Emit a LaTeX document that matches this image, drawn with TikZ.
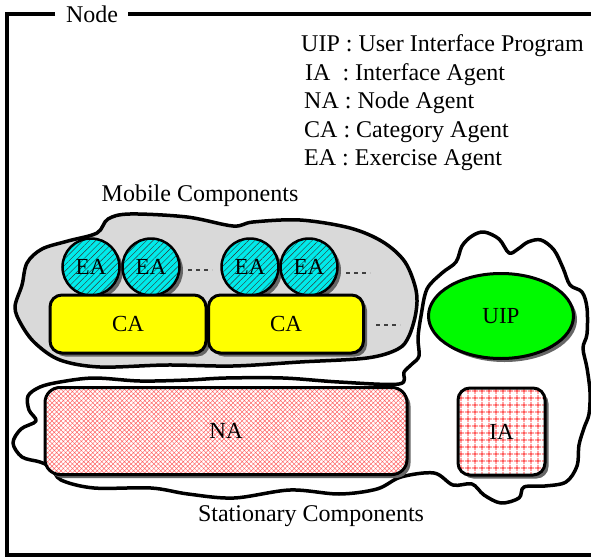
\documentclass[tikz,border=0pt]{standalone}
\usepackage{fontspec}
\setmainfont{Liberation Serif}
\usetikzlibrary{shadows,patterns.meta,shapes.geometric}
\definecolor{eacyan}{RGB}{0,235,235}
\definecolor{cayellow}{RGB}{255,255,0}
\definecolor{uipgreen}{RGB}{0,250,0}
\definecolor{cloudgray}{RGB}{217,217,217}
\begin{document}
\begin{tikzpicture}[x=1pt,y=-1pt,
  lbl/.style={font=\fontsize{24}{28}\selectfont, inner sep=0pt},
  inlbl/.style={font=\fontsize{23}{27}\selectfont},
  shad/.style={drop shadow={shadow xshift=3.5pt,shadow yshift=-3.5pt,fill=black!60,opacity=1}},
  frameline/.style={line width=4pt},
  cloudline/.style={line width=3.5pt, line join=round},
  boxline/.style={draw, line width=3pt},
  eacirc/.style={circle, boxline, line width=2.5pt, minimum size=57pt, inner sep=0pt, shad,
     preaction={fill=eacyan}, pattern={Lines[angle=45,distance=4.5pt,line width=0.45pt]}, pattern color=black!80, inlbl},
  cabox/.style={rectangle, boxline, rounded corners=12pt, minimum width=156pt, minimum height=58pt, fill=cayellow, shad, inlbl},
  dots/.style={line width=2.5pt, dash pattern=on 4pt off 4pt, black!75}
]
\useasboundingbox (0,0) rectangle (591,559);

% frame
\node[lbl] (nodelbl) at (92,14) {Node};
\draw[frameline] (55,14) -- (7,14) -- (7,555) -- (591,555);
\draw[frameline] (128,14) -- (591,14);

% legend
\node[lbl, anchor=west] (l1) at (301,46) {UIP : User Interface Program};
\node[lbl, anchor=west] (l2) at (305,75) {IA\ \ : Interface Agent};
\node[lbl, anchor=west] (l3) at (304,103) {NA : Node Agent};
\node[lbl, anchor=west] (l4) at (304,132) {CA : Category Agent};
\node[lbl, anchor=west] (l5) at (304,160) {EA : Exercise Agent};

\node[lbl] (mobile) at (200,196) {Mobile Components};
\node[lbl] (stat) at (311,516) {Stationary Components};

% mobile cloud
\draw[cloudline, fill=cloudgray] plot[smooth cycle, tension=0.55] coordinates {
 (15,307) (22,285) (27,263) (42,249) (68,241) (97,233) (108,219) (130,214)
 (187,217) (233,226) (253,222) (300,220) (350,228) (383,242) (405,262)
 (416,290) (416,312) (409,336) (398,349) (367,358) (300,362) (233,366)
 (167,365) (100,367) (60,360) (35,343) (21,324)};

% stationary + right cloud
\draw[cloudline, fill=white] plot[smooth cycle, tension=0.55] coordinates {
 (28,396) (40,387) (60,382) (94,378) (140,381) (188,380) (226,378) (283,378)
 (339,382) (399,384) (404,372) (412,364) (419,356) (418,338) (421,316)
 (427,289) (442,273) (456,262) (462,246) (472,236) (484,232) (499,239)
 (509,253) (518,249) (528,242) (541,240) (554,250) (563,268) (570,285)
 (582,292) (587,308) (587,334) (583,348) (587,368) (590,392) (589,414)
 (584,428) (579,445) (577,466) (566,482) (545,486) (524,487) (519,498)
 (501,503) (484,495) (472,484) (453,485) (434,473) (401,477) (377,489)
 (339,494) (290,490) (234,498) (188,494) (151,488) (94,488) (61,480)
 (52,468) (40,462) (22,457) (13,443) (21,429) (36,421) (29,410)};

% EA circles
\node[eacirc] (ea1) at (91,267) {EA};
\node[eacirc] (ea2) at (151,267) {EA};
\node[eacirc] (ea3) at (250,267) {EA};
\node[eacirc] (ea4) at (309,267) {EA};

% CA boxes
\node[cabox] (ca1) at (128,324) {CA};
\node[cabox, minimum width=155pt] (ca2) at (286,324) {CA};

% ellipses "..."
\coordinate (d1a) at (188,270); \coordinate (d1b) at (212,270);
\coordinate (d2a) at (346,273); \coordinate (d2b) at (370,273);
\coordinate (d3a) at (376,325); \coordinate (d3b) at (400,325);
\draw[dots] (d1a) -- (d1b);
\draw[dots] (d2a) -- (d2b);
\draw[dots] (d3a) -- (d3b);

% UIP
\node[ellipse, boxline, fill=uipgreen, minimum width=145pt, minimum height=85pt, shad, inlbl] (uip) at (501,316) {UIP};

% NA
\node[rectangle, boxline, rounded corners=15pt, minimum width=362pt, minimum height=87pt, shad,
  preaction={fill=white}, pattern={Hatch[angle=45,distance=3.2pt,line width=0.5pt]}, pattern color=red!60, inlbl] (na) at (226,431) {NA};

% IA
\node[rectangle, boxline, rounded corners=12pt, minimum width=87pt, minimum height=87pt, shad,
  preaction={fill=white}, pattern={Hatch[angle=0,distance=6.5pt,line width=0.8pt]}, pattern color=red, inlbl] (ia) at (501.5,431.5) {IA};

\end{tikzpicture}
\end{document}
